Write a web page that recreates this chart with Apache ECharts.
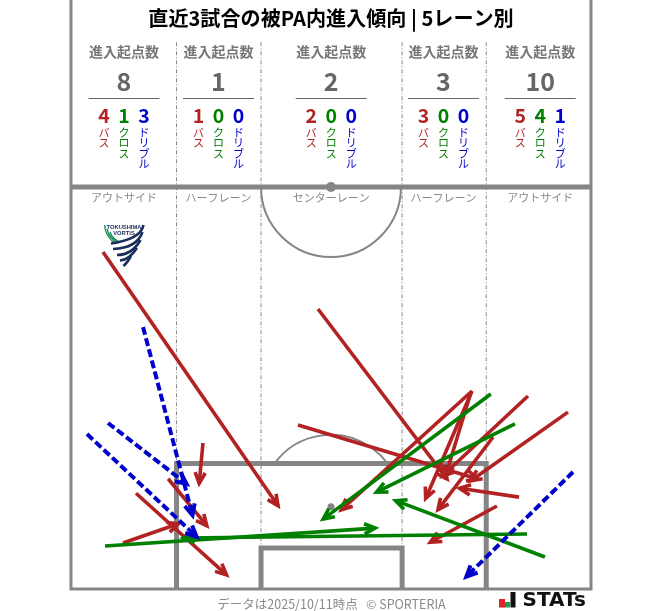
<!DOCTYPE html>
<html><head><meta charset="utf-8">
<style>html,body{margin:0;padding:0;background:#fff}#c{width:663px;height:611px}</style>
<script src="https://cdn.jsdelivr.net/npm/echarts@6/dist/echarts.min.js"></script>
</head><body><div id="c"></div>
<script>
// arrows in pitch metres: [startX, startY, endX, endY]
var passes = [
 [4.18,44.0,27.2,10.7],[12.7,14.4,17.9,8.1],[8.5,12.5,20.5,1.7],[6.8,6.0,14.25,8.6],
 [17.26,19.07,16.74,13.58],
 [32.3,36.57,49.3,14.2],[29.68,21.42,53.4,14.3],
 [52.44,25.86,35.18,10.19],[52.44,25.86,46.29,11.62],[52.3,25.7,48.9,14.5],
 [59.76,25.2,48.4,14.6],[64.99,23.1,52.1,14.0],[58.59,12.0,50.6,13.19],[55.2,19.85,47.86,10.19],[55.7,10.84,46.8,6.0]
];
var crosses = [
 [4.45,5.62,40.0,7.97],[54.9,25.47,32.8,9.0],[58.06,21.55,39.75,12.54],[61.98,4.18,42.24,11.62],[59.63,7.18,14.5,6.66]
];
var dribbles = [
 [9.42,34.2,15.95,9.4],[4.84,21.68,15.3,13.58],[2.09,20.24,16.6,6.66],[65.65,15.28,51.52,1.44]
];
var laneNames = ['アウトサイド','ハーフレーン','センターレーン','ハーフレーン','アウトサイド'];
var laneCenters = [124,218.5,331.2,443.5,540.2];
var laneTotals = [8,1,2,3,10];
var lanePass = [4,1,2,3,5];
var laneCross = [1,0,0,0,4];
var laneDribble = [3,0,0,0,1];
var titleText = '直近3試合の被PA内進入傾向 | 5レーン別';
var footText = 'データは2025/10/11時点   © SPORTERIA';

var JP = '"Noto Sans CJK JP","Noto Sans",sans-serif';
var RED='#b22222', GREEN='#008000', BLUE='#0000cd', LINE='#858585';
var TOP=76.92;
// pitch lines in metres
var solidLines = [
 {p:[[0,TOP],[0,0],[68,0],[68,TOP]],w:3},
 {p:[[0,52.5],[68,52.5]],w:5},
 {p:[[13.8,0],[13.8,16.4],[54.3,16.4],[54.3,0]],w:5},
 {p:[[24.85,0],[24.85,5.35],[43.3,5.35],[43.3,0]],w:5}
];
var dashLines = [
 [[13.8,71.4],[13.8,16.4]],[[24.85,71.4],[24.85,5.35]],[[43.3,71.4],[43.3,5.35]],[[54.3,71.4],[54.3,16.4]]
];

function pitchItem(params, api){
  var ch=[];
  var pxPerM = api.size([1,1]);
  dashLines.forEach(function(l){
    ch.push({type:'polyline',shape:{points:l.map(function(q){return api.coord(q)})},
      style:{stroke:'#8a8a8a',lineWidth:1,lineDash:[4,2,1,2],fill:null}});
  });
  solidLines.forEach(function(l){
    ch.push({type:'polyline',shape:{points:l.p.map(function(q){return api.coord(q)})},
      style:{stroke:LINE,lineWidth:l.w,fill:null}});
  });
  var c1=api.coord([34,52.5]), c2=api.coord([34,11]), r=9.15*pxPerM[0];
  ch.push({type:'arc',shape:{cx:c1[0],cy:c1[1],r:r,startAngle:0,endAngle:Math.PI,clockwise:true},style:{stroke:LINE,lineWidth:2,fill:null}});
  var a=Math.asin(5.4/9.15);
  ch.push({type:'arc',shape:{cx:c2[0],cy:c2[1],r:r,startAngle:Math.PI+a,endAngle:-a+2*Math.PI,clockwise:true},style:{stroke:LINE,lineWidth:2,fill:null}});
  ch.push({type:'circle',shape:{cx:c1[0],cy:c1[1],r:5},style:{fill:LINE}});
  ch.push({type:'circle',shape:{cx:c2[0],cy:c2[1]+2,r:3.5},style:{fill:LINE}});
  return {type:'group',children:ch};
}
function arrowItem(color,dash,width){
  return function(params,api){
    var s=api.coord([api.value(0),api.value(1)]), e0=api.coord([api.value(2),api.value(3)]);
    var ang=Math.atan2(e0[1]-s[1],e0[0]-s[0]), L=12, sp=0.44, back=0.4*width/2/Math.sin(sp);
    var e=[e0[0]-back*Math.cos(ang),e0[1]-back*Math.sin(ang)];
    var h1=[e[0]-L*Math.cos(ang-sp),e[1]-L*Math.sin(ang-sp)];
    var h2=[e[0]-L*Math.cos(ang+sp),e[1]-L*Math.sin(ang+sp)];
    return {type:'group',children:[
      {type:'line',shape:{x1:s[0],y1:s[1],x2:e[0],y2:e[1]},style:{stroke:color,lineWidth:width,lineDash:dash,lineCap:'butt'}},
      {type:'polyline',shape:{points:[h1,e,h2]},style:{stroke:color,lineWidth:width,fill:null,lineJoin:'miter',miterLimit:10}}
    ]};
  };
}
function txt(x,y,s,size,color,weight,align,va,extra){
  var st={text:s,fontSize:size,fill:color,fontWeight:weight||'normal',fontFamily:JP,align:align||'center',verticalAlign:va||'middle'};
  if(extra){for(var k in extra)st[k]=extra[k];}
  return {type:'text',x:x,y:y,silent:true,z:20,style:st};
}
var g=[];
g.push(txt(331,18,titleText,20.1,'#000','bold'));
laneCenters.forEach(function(cx,i){
  g.push(txt(cx,52,'進入起点数',14,'#777','bold'));
  g.push(txt(cx,81,String(laneTotals[i]),25,'#666','bold'));
  g.push({type:'line',shape:{x1:cx-35.5,y1:98.5,x2:cx+35.5,y2:98.5},style:{stroke:'#666',lineWidth:1},z:20});
  [[lanePass[i],RED,'バ\nス',-20],[laneCross[i],GREEN,'ク\nロ\nス',0],[laneDribble[i],BLUE,'ド\nリ\nブ\nル',20]].forEach(function(k){
    g.push(txt(cx+k[3],116,String(k[0]),19.5,k[1],'bold'));
    g.push(txt(cx+k[3],127.5,k[2],11,k[1],'normal','center','top',{lineHeight:10.5}));
  });
  g.push(txt(cx,198,laneNames[i],11,'#8a8a8a'));
});
g.push(txt(331.5,604,footText,12.5,'#8a8a8a'));
// STATS mark
g.push({type:'rect',shape:{x:499,y:599,width:6,height:8.5},style:{fill:'#e0202a'},z:20});
g.push({type:'rect',shape:{x:505,y:602,width:5,height:5.5},style:{fill:'#1aa050'},z:20});
g.push({type:'rect',shape:{x:510.5,y:592,width:5,height:15.5},style:{fill:'#111'},z:20});
g.push(txt(522.5,600.5,'STATs',20,'#111','bold','left','middle',{fontFamily:'"DejaVu Sans",sans-serif'}));
// club crest
var NAVY='#1b2f5b', CG='#128a55';
g.push(txt(124,227.5,'TOKUSHIMA',5.8,NAVY,'bold','center','middle',{fontFamily:'"Liberation Sans",sans-serif'}));
g.push(txt(124,233.5,'VORTIS',5.8,NAVY,'bold','center','middle',{fontFamily:'"Liberation Sans",sans-serif'}));
function curve(x1,y1,cx,cy,x2,y2,col,w){
  return {type:'bezierCurve',shape:{x1:x1,y1:y1,x2:x2,y2:y2,cpx1:cx,cpy1:cy},style:{stroke:col,lineWidth:w,fill:null},z:19};
}
g.push(curve(104.5,225,105.5,237,116,244,CG,1.3));
g.push(curve(107,229,109,238,118,243,CG,1.3));
g.push(curve(110,232,112,239,120,242,CG,1.3));
g.push(curve(143.5,225,141,239,111,243.5,NAVY,2.6));
g.push(curve(142.5,232,137,248,113,249,NAVY,2.6));
g.push(curve(140.5,240,132,255,117,255,NAVY,2.6));
g.push(curve(137,248,129,260,120,260.5,NAVY,2.6));
g.push(curve(131,256,127,263,123.5,266,NAVY,2.6));

var option={
  animation:false,
  grid:{left:71,width:520,top:0,height:589,containLabel:false},
  xAxis:{type:'value',min:0,max:68,show:false},
  yAxis:{type:'value',min:0,max:TOP,show:false},
  graphic:{elements:g},
  series:[
    {type:'custom',coordinateSystem:'cartesian2d',renderItem:pitchItem,data:[[0,0]],clip:false,silent:true,z:1},
    {type:'custom',coordinateSystem:'cartesian2d',renderItem:arrowItem(RED,null,3.6),data:passes,encode:{x:[0,2],y:[1,3]},clip:false,silent:true,z:2},
    {type:'custom',coordinateSystem:'cartesian2d',renderItem:arrowItem(GREEN,null,3.6),data:crosses,encode:{x:[0,2],y:[1,3]},clip:false,silent:true,z:3},
    {type:'custom',coordinateSystem:'cartesian2d',renderItem:arrowItem(BLUE,[8,3.5],4),data:dribbles,encode:{x:[0,2],y:[1,3]},clip:false,silent:true,z:4}
  ]
};
echarts.init(document.getElementById('c'),null,{renderer:'canvas'}).setOption(option);
</script></body></html>
